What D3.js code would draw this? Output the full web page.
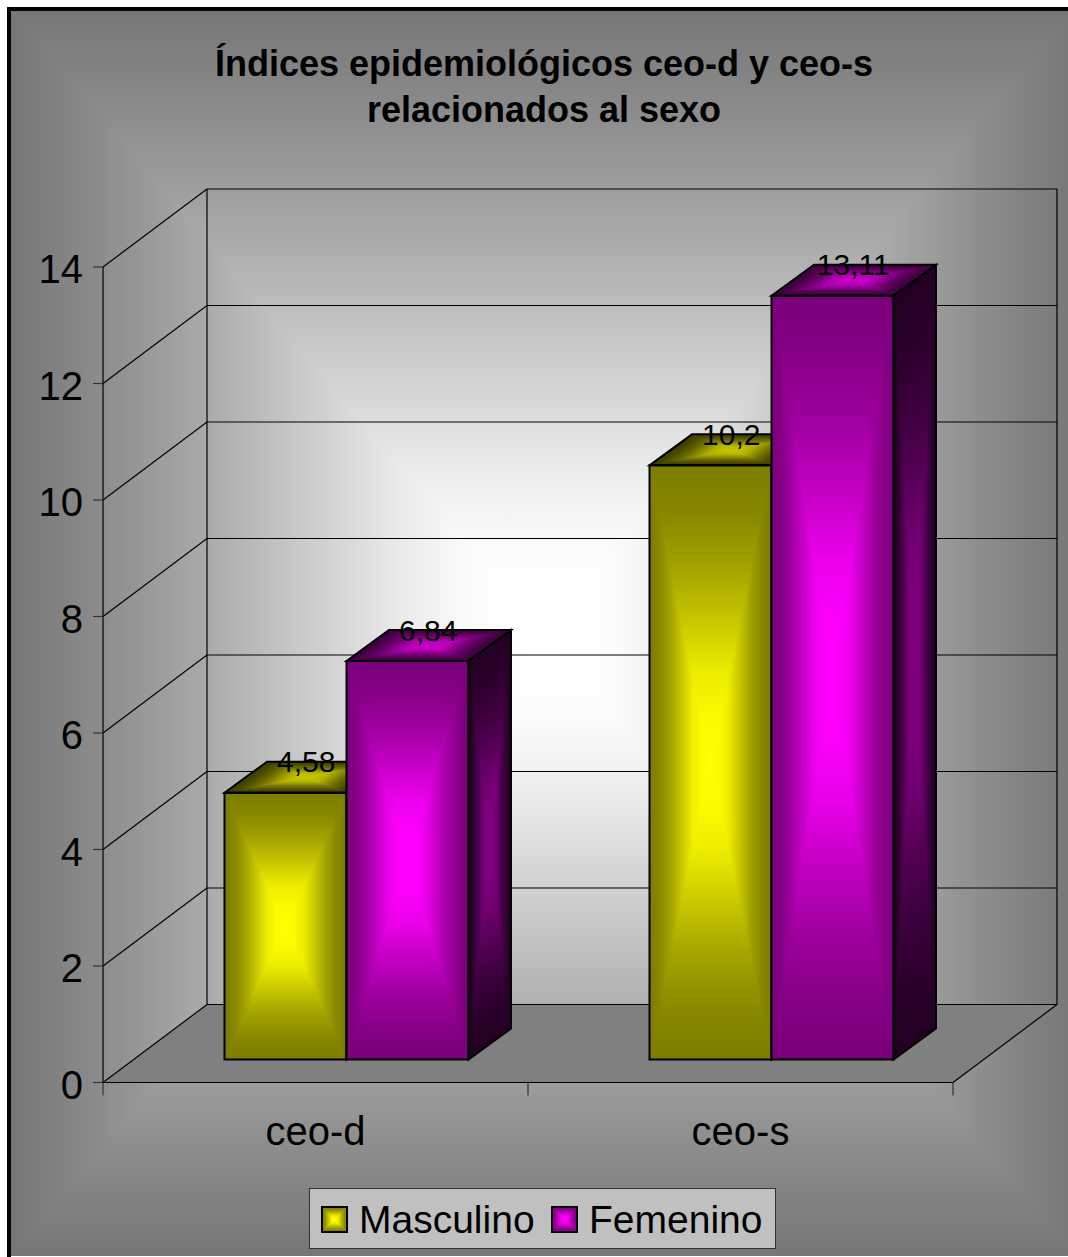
<!DOCTYPE html>
<html lang="es">
<head>
<meta charset="utf-8">
<title>Índices epidemiológicos ceo-d y ceo-s</title>
<script src="https://cdn.jsdelivr.net/npm/d3@7"></script>
<style>
  html, body { margin: 0; padding: 0; background: #fff; }
  svg { display: block; }
  text { font-family: "Liberation Sans", Arial, sans-serif; fill: #000; }
</style>
</head>
<body>
<svg id="chart" width="1068" height="1257"></svg>
<script>
// Chart data
const titleLines = ["Índices epidemiológicos ceo-d y ceo-s", "relacionados al sexo"];
const categories = ["ceo-d", "ceo-s"];
const seriesNames = ["Masculino", "Femenino"];
const masculino = [4.58, 10.2];
const femenino = [6.84, 13.11];
const yTicks = [0, 2, 4, 6, 8, 10, 12, 14];

const svg = d3.select("#chart");
const defs = svg.append("defs");

// Scales for the front plane of the 3D box
const y = d3.scaleLinear().domain([0, 14]).range([1082.5, 267]);
const x = d3.scaleBand().domain(categories).range([103, 953]);
const barScale = d3.scaleBand().domain(seriesNames).range([0, 244]);

// Projection offsets: full box depth, and where the bars sit inside it
const box = { dx: 104, dy: -78 };
const barFront = { dx: 31, dy: -23 };
const barDepth = { dx: 42.5, dy: -31 };

const palette = {
  Masculino: { front: ["#ffff00", "#7c7c00"], top: ["#c4c400", "#3c3c00"], side: ["#808000", "#202000"] },
  Femenino: { front: ["#ff00ff", "#7a007a"], top: ["#c800c8", "#3c003c"], side: ["#800080", "#220022"] }
};

// Bell-shaped falloff of the shading: [distance from centre, blend towards the centre colour]
const faceFalloff = [[0, 1], [0.15, 0.97], [0.3, 0.86], [0.45, 0.62], [0.65, 0.3], [0.85, 0.08], [1, 0]];
const backdropFalloff = [[0, 1], [0.08, 0.99], [0.15, 0.96], [0.27, 0.85], [0.45, 0.61], [0.63, 0.38], [0.83, 0.16], [1, 0]];

let gradientCount = 0;

// Fills a quadrilateral with a path-style gradient: four triangles meet at
// the centre, each shading towards its own outer edge.
function shadedFace(parent, corners, [inner, outer], falloff = faceFalloff, centre) {
  const c = centre || [d3.mean(corners, p => p[0]), d3.mean(corners, p => p[1])];
  const mix = d3.interpolateRgb(outer, inner);
  const g = parent.append("g").attr("shape-rendering", "crispEdges");
  corners.forEach((a, i) => {
    const b = corners[(i + 1) % corners.length];
    const ex = b[0] - a[0], ey = b[1] - a[1];
    const t = ((c[0] - a[0]) * ex + (c[1] - a[1]) * ey) / (ex * ex + ey * ey);
    const foot = [a[0] + t * ex, a[1] + t * ey];
    const id = `shade${gradientCount++}`;
    const lg = defs.append("linearGradient").attr("id", id)
      .attr("gradientUnits", "userSpaceOnUse")
      .attr("x1", c[0]).attr("y1", c[1]).attr("x2", foot[0]).attr("y2", foot[1]);
    falloff.forEach(([offset, k]) => {
      lg.append("stop").attr("offset", offset).attr("stop-color", mix(k));
    });
    g.append("polygon")
      .attr("points", [a, b, c].join(" "))
      .attr("fill", `url(#${id})`);
  });
}

function outline(parent, corners, width) {
  parent.append("polygon")
    .attr("points", corners.join(" "))
    .attr("fill", "none")
    .attr("stroke", "#000")
    .attr("stroke-width", width)
    .attr("stroke-linejoin", "miter");
}

function line(parent, x1, y1, x2, y2, width = 1.2, colour = "#000") {
  parent.append("line")
    .attr("x1", x1).attr("y1", y1).attr("x2", x2).attr("y2", y2)
    .attr("stroke", colour).attr("stroke-width", width);
}

// Chart area background and frame
const frame = { x0: 9, y0: 8, x1: 1077, y1: 1256 };
shadedFace(svg, [
  [frame.x0, frame.y0], [frame.x1, frame.y0], [frame.x1, frame.y1], [frame.x0, frame.y1]
], ["#ffffff", "#767676"], backdropFalloff, [543, 632]);
svg.append("rect")
  .attr("x", 9).attr("y", 9).attr("width", 1080).attr("height", 1270)
  .attr("fill", "none").attr("stroke", "#000").attr("stroke-width", 4);

// Title
const title = svg.append("text")
  .attr("text-anchor", "middle")
  .attr("font-size", 36)
  .attr("font-weight", "bold");
titleLines.forEach((t, i) => {
  title.append("tspan").attr("x", 544).attr("y", 76 + i * 46).text(t);
});

// Box walls, gridlines and floor
const xLeft = x.range()[0], xRight = x.range()[1];
const walls = svg.append("g");
const floorPts = [
  [xLeft, y(0)], [xLeft + box.dx, y(0) + box.dy],
  [xRight + box.dx, y(0) + box.dy], [xRight, y(0)]
];
walls.append("polygon").attr("points", floorPts.join(" ")).attr("fill", "#808080");

yTicks.forEach(v => {
  const yf = y(v), yb = yf + box.dy;
  line(walls, xLeft, yf, xLeft + box.dx, yb);
  line(walls, xLeft + box.dx, yb, xRight + box.dx, yb);
});
line(walls, xLeft, y(0), xLeft, y(14));
line(walls, xLeft + box.dx, y(0) + box.dy, xLeft + box.dx, y(14) + box.dy);
line(walls, xRight + box.dx, y(0) + box.dy, xRight + box.dx, y(14) + box.dy);
line(walls, xRight, y(0), xRight + box.dx, y(0) + box.dy);
line(walls, xLeft, y(0), xRight, y(0));

// Value axis
const yAxis = svg.append("g")
  .attr("transform", `translate(${xLeft},0)`)
  .call(d3.axisLeft(y).tickValues(yTicks).tickSize(10).tickPadding(10).offset(0));
yAxis.select(".domain").remove();
yAxis.attr("font-family", null);
yAxis.selectAll("line").attr("stroke", "#333").attr("stroke-width", 1.2);
yAxis.selectAll("text").attr("font-size", 40).attr("dy", "0.4em");

// Category axis: ticks on band boundaries, labels at band centres
const xTickPositions = [...categories.map(c => x(c)), xRight];
xTickPositions.forEach(px => line(svg, px, y(0), px, y(0) + 13, 1.2, "#333"));
const xAxis = svg.append("g")
  .attr("transform", `translate(0,${y(0)})`)
  .call(d3.axisBottom(x).tickSize(0).tickPadding(34).offset(0));
xAxis.select(".domain").remove();
xAxis.attr("font-family", null);
xAxis.selectAll("text").attr("font-size", 40);

// Bars
const seriesValues = [masculino, femenino];
const barLabels = [];
const barsLayer = svg.append("g");
categories.forEach((cat, ci) => {
  seriesNames.forEach((name, si) => {
    const v = seriesValues[si][ci];
    const left = x(cat) + x.bandwidth() / 2 + barFront.dx - 122 + barScale(name);
    const right = left + barScale.bandwidth();
    const top = y(v) + barFront.dy;
    const base = y(0) + barFront.dy;
    const colours = palette[name];
    const g = barsLayer.append("g");

    const front = [[left, top], [right, top], [right, base], [left, base]];
    const topFace = [[left, top], [left + barDepth.dx, top + barDepth.dy],
                     [right + barDepth.dx, top + barDepth.dy], [right, top]];
    const side = [[right, top], [right + barDepth.dx, top + barDepth.dy],
                  [right + barDepth.dx, base + barDepth.dy], [right, base]];

    shadedFace(g, side, colours.side);
    shadedFace(g, topFace, colours.top);
    shadedFace(g, front, colours.front);
    outline(g, side, 2);
    outline(g, topFace, 2);
    outline(g, front, 2);

    barLabels.push({
      text: String(v).replace(".", ","),
      x: (left + right + barDepth.dx) / 2 - 0.5,
      y: top - 20.5
    });
  });
});

// Value labels above each bar
svg.append("g").selectAll("text").data(barLabels).join("text")
  .attr("x", d => d.x).attr("y", d => d.y)
  .attr("text-anchor", "middle")
  .attr("font-size", 30)
  .text(d => d.text);

// Legend
const legend = svg.append("g");
legend.append("rect")
  .attr("x", 309.5).attr("y", 1188.5).attr("width", 466).attr("height", 60)
  .attr("fill", "#c0c0c0").attr("stroke", "#333").attr("stroke-width", 1);
const legendX = d3.scaleOrdinal().domain(seriesNames).range([322, 552]);
seriesNames.forEach(name => {
  const lx = legendX(name);
  const sw = [[lx, 1207], [lx + 25, 1207], [lx + 25, 1232], [lx, 1232]];
  shadedFace(legend, sw, palette[name].front);
  outline(legend, sw, 2);
  legend.append("text")
    .attr("x", lx + 37).attr("y", 1233)
    .attr("font-size", 39)
    .text(name);
});
</script>
</body>
</html>
